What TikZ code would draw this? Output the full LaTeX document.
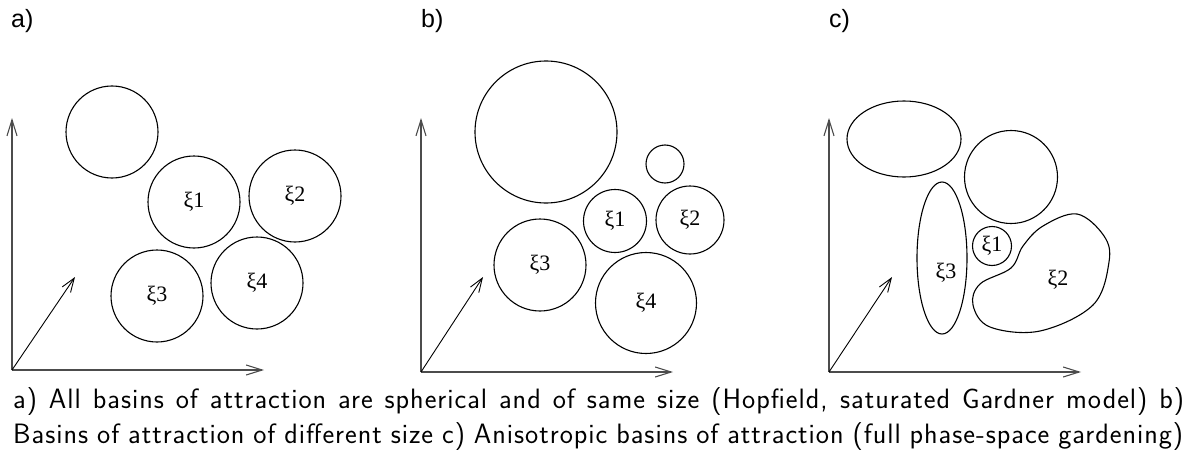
\documentclass[tikz,border=0pt]{standalone}
\usepackage{fontspec}
\setmainfont{Liberation Serif}
\newfontfamily\panelfont{Liberation Sans}
\newfontfamily\capfont[LetterSpace=3.5]{Latin Modern Sans}
\usetikzlibrary{arrows.meta}
\tikzset{
  axis/.style={line width=1.3pt, draw=black!70, -{Straight Barb[length=16pt,width=10pt,line width=1.1pt]}},
  diag/.style={line width=0.9pt, draw=black, -{Straight Barb[length=14pt,width=10pt,line width=0.9pt]}},
  basin/.style={circle, draw=black, line width=1.1pt, inner sep=0pt, font=\fontsize{22}{22}\selectfont},
  outline/.style={draw=black, line width=1.1pt},
  xilabel/.style={inner sep=0pt, font=\fontsize{22}{22}\selectfont},
  panel/.style={anchor=base west, inner sep=0pt, font=\panelfont\fontsize{25}{25}\selectfont},
  captext/.style={anchor=base west, inner sep=0pt, font=\capfont\fontsize{28}{34}\selectfont}
}
\begin{document}
\begin{tikzpicture}[x=1pt,y=-1pt]
\useasboundingbox[fill=white] (0,0) rectangle (1194,452);

% panel labels
\node[panel] (la) at (11,28) {a)};
\node[panel] (lb) at (421,28) {b)};
\node[panel] (lc) at (829,28) {c)};

% ---------- panel a ----------
\coordinate (oa) at (12,370);
\coordinate (ay) at (12,118);
\coordinate (ax) at (264,370);
\coordinate (ad) at (75,277);
\draw[axis] (oa) -- (ay);
\draw[axis] (oa) -- (ax);
\draw[diag] (oa) -- (ad);
\node[basin, minimum size=92pt] (a0) at (112,132) {};
\node[basin, minimum size=92pt] (a1) at (194,202) {ξ1};
\node[basin, minimum size=92pt] (a2) at (295,196) {ξ2};
\node[basin, minimum size=92pt] (a3) at (157,296) {ξ3};
\node[basin, minimum size=92pt] (a4) at (257,283) {ξ4};

% ---------- panel b ----------
\coordinate (ob) at (421,372);
\coordinate (by) at (421,118);
\coordinate (bx) at (673,372);
\coordinate (bd) at (483,277);
\draw[axis] (ob) -- (by);
\draw[axis] (ob) -- (bx);
\draw[diag] (ob) -- (bd);
\node[basin, minimum size=142pt] (b0) at (546,132) {};
\node[basin, minimum size=38pt] (bs) at (665,164) {};
\node[basin, minimum size=63pt] (b1) at (615,221) {ξ1};
\node[basin, minimum size=68pt] (b2) at (690,220) {ξ2};
\node[basin, minimum size=92pt] (b3) at (540,265) {ξ3};
\node[basin, minimum size=101pt] (b4) at (646,303) {ξ4};

% ---------- panel c ----------
\coordinate (oc) at (829,372);
\coordinate (cy) at (829,118);
\coordinate (cx) at (1081,372);
\coordinate (cd) at (892,277);
\draw[axis] (oc) -- (cy);
\draw[axis] (oc) -- (cx);
\draw[diag] (oc) -- (cd);
\draw[outline] (904,139) ellipse [x radius=57pt, y radius=38pt];
\node[basin, minimum size=93pt] (c0) at (1011,177) {};
\draw[outline] (942,258) ellipse [x radius=25pt, y radius=76pt];
\node[xilabel] (c3) at (946,273) {ξ3};
\node[basin, minimum size=39pt] (c1) at (992,246) {ξ1};
\draw[outline] plot[smooth cycle, tension=0.6] coordinates {
  (1077,214) (1104,236) (1109,262) (1093,305) (1040,331) (990,327)
  (973,305) (980,284) (1011,268) (1023,246) (1043,226)};
\node[xilabel] (c2) at (1058,280) {ξ2};

% ---------- caption ----------
\node[captext] (cap1) at (13,408) {\makebox[1171pt][s]{a) All basins of attraction are spherical and of same size (Hopfield, saturated Gardner model) b)}};
\node[captext] (cap2) at (13,443) {\makebox[1170pt][s]{Basins of attraction of different size c) Anisotropic basins of attraction (full phase-space gardening)}};
\end{tikzpicture}
\end{document}
